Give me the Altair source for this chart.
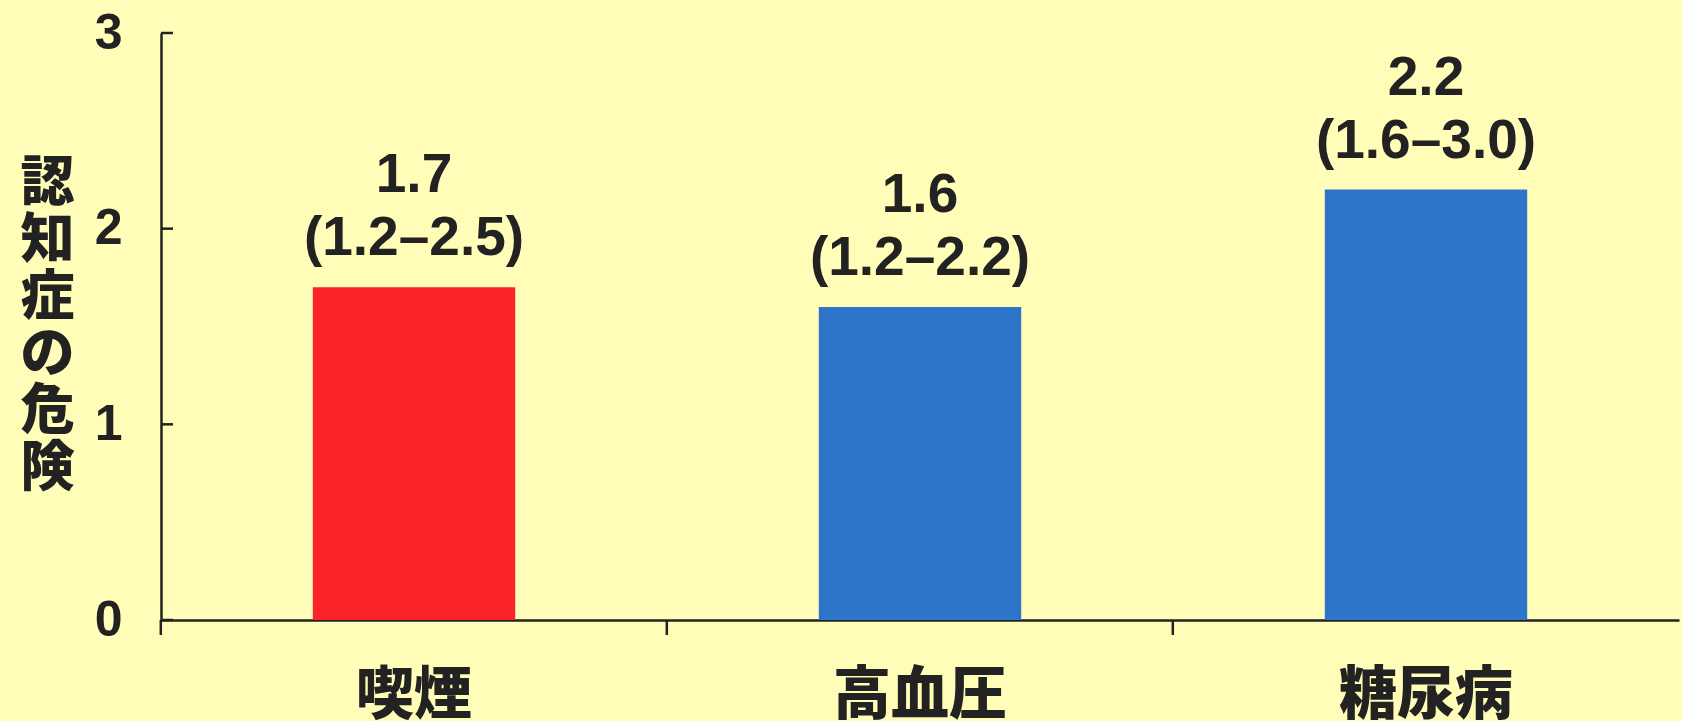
import altair as alt
import pandas as pd

categories = ["喫煙", "高血圧", "糖尿病"]
risk = [1.7, 1.6, 2.2]
ci_low = ["1.2", "1.2", "1.6"]
ci_high = ["2.5", "2.2", "3.0"]
group = ["smoke", "other", "other"]
y_ticks = [0, 1, 2, 3]

df = pd.DataFrame({
    "cat": categories,
    "risk": risk,
    "grp": group,
    "label": [f"{r}\n({lo}–{hi})" for r, lo, hi in zip(risk, ci_low, ci_high)],
})
ticks_df = pd.DataFrame({"v": y_ticks})
xt_df = pd.DataFrame({"cat": categories})

INK = "#222222"
BG = "#FFFDB8"

x_axis = alt.Axis(
    ticks=False,
    domainColor=INK,
    domainWidth=2.5,
    labelAngle=0,
    labelFont="Noto Sans CJK JP",
    labelFontSize=58,
    labelFontWeight=900,
    labelColor=INK,
    labelBaseline="top",
    labelPadding=47,
    grid=False,
    title=None,
)
x_scale = alt.Scale(paddingInner=0.6, paddingOuter=0.3)

y_axis = alt.Axis(
    values=y_ticks,
    ticks=False,
    grid=False,
    domainColor=INK,
    domainWidth=2.5,
    labelFont="Liberation Sans",
    labelFontSize=50,
    labelFontWeight="bold",
    labelColor=INK,
    labelPadding=39,
    title=["認", "知", "症", "の", "危", "険"],
    titleAngle=0,
    titleX=-114,
    titleY=124,
    titleAlign="center",
    titleBaseline="top",
    titleFont="Noto Sans CJK JP",
    titleFontSize=54,
    titleFontWeight=900,
    titleLineHeight=57,
    titleColor=INK,
)
y_scale = alt.Scale(domain=[0, 3], nice=False)

bars = alt.Chart(df).mark_bar().encode(
    x=alt.X("cat:N", sort=categories, scale=x_scale, axis=x_axis),
    y=alt.Y("risk:Q", scale=y_scale, axis=y_axis),
    color=alt.Color(
        "grp:N",
        scale=alt.Scale(domain=["smoke", "other"], range=["#FB2229", "#2E74C9"]),
        legend=None,
    ),
)

labels = alt.Chart(df).mark_text(
    lineBreak="\n",
    baseline="bottom",
    align="center",
    dy=-83,
    font="Liberation Sans",
    fontSize=55,
    fontWeight="bold",
    lineHeight=63,
    color=INK,
).encode(
    x=alt.X("cat:N", sort=categories, scale=x_scale, axis=x_axis),
    y=alt.Y("risk:Q", scale=y_scale, axis=y_axis),
    text="label:N",
)

inner_ticks = alt.Chart(ticks_df).mark_rule(color=INK, strokeWidth=2.5).encode(
    y=alt.Y("v:Q", scale=y_scale, axis=y_axis),
    x=alt.value(0),
    x2=alt.value(12),
)

x_ticks = alt.Chart(xt_df).mark_rule(color=INK, strokeWidth=2.5, xOffset=-152).encode(
    x=alt.X("cat:N", sort=categories, scale=x_scale, axis=x_axis, bandPosition=0),
    y=alt.value(587),
    y2=alt.value(602),
)

chart = alt.layer(bars, labels, inner_ticks, x_ticks).properties(
    width=1518,
    height=587,
    autosize=alt.AutoSizeParams(type="none"),
    padding={"left": 161, "top": 33, "right": 3, "bottom": 101},
    background=BG,
).configure_view(stroke=None)

chart.save("out.html", embed_options={"renderer": "svg", "actions": False})
